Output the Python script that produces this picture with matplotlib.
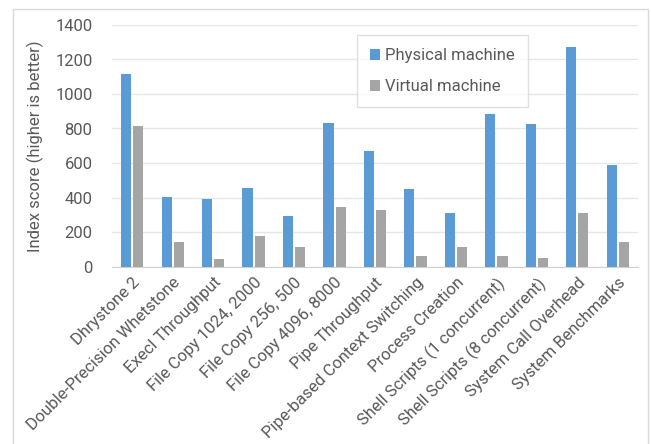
import numpy as np
import matplotlib.pyplot as plt
from matplotlib.patches import Rectangle

benchmarks = ['Dhrystone 2', 'Double-Precision Whetstone', 'Execl Throughput',
              'File Copy 1024, 2000', 'File Copy 256, 500', 'File Copy 4096, 8000',
              'Pipe Throughput', 'Pipe-based Context Switching', 'Process Creation',
              'Shell Scripts (1 concurrent)', 'Shell Scripts (8 concurrent)',
              'System Call Overhead', 'System Benchmarks']
physical = [1118, 401, 393, 453, 291, 830, 668, 449, 308, 884, 824, 1274, 587]
virtual = [813, 142, 45, 177, 115, 343, 329, 63, 113, 59, 49, 310, 144]

plt.rcParams['font.family'] = ['Roboto', 'DejaVu Sans']
text_color = '#595959'
fs = 12

fig = plt.figure(figsize=(6.51, 4.44), dpi=100)
ax = fig.add_axes([112 / 651, 1 - 266.5 / 444, 526 / 651, 241.5 / 444])

# light frame round the whole chart, open at the bottom edge
fig.patches.append(Rectangle((12.5 / 651, -0.1), 635 / 651, 1.1 - 9 / 444,
                             transform=fig.transFigure, fill=False,
                             edgecolor='#d9d9d9', linewidth=1.0))

x = np.arange(len(benchmarks))
w = 0.25
ax.bar(x - w / 2 - 0.025, physical, w, color='#5B9BD5', label='Physical machine', zorder=3)
ax.bar(x + w / 2 + 0.025, virtual, w, color='#A5A5A5', label='Virtual machine', zorder=3)

ax.set_xlim(-0.5, len(benchmarks) - 0.5)
ax.set_ylim(0, 1400)
ax.set_yticks(range(0, 1401, 200))
ax.yaxis.grid(True, color='#e6e6e6', linewidth=1.0, zorder=0)
ax.set_axisbelow(True)

for side in ['top', 'right', 'left']:
    ax.spines[side].set_visible(False)
ax.spines['bottom'].set_color('#d0d0d0')

ax.set_xticks(x)
ax.set_xticklabels(benchmarks, rotation=45, ha='right', rotation_mode='anchor',
                   fontsize=fs, color=text_color)
ax.tick_params(axis='x', length=0, pad=6)
ax.tick_params(axis='y', length=0, labelsize=fs, labelcolor=text_color, pad=14)
ax.set_ylabel('Index score (higher is better)', fontsize=fs, color=text_color, labelpad=8)

leg = ax.legend(loc='upper left', bbox_to_anchor=(245 / 526, 1 - 10 / 241.5),
                fontsize=fs, frameon=True, fancybox=False, borderpad=0.8,
                labelspacing=0.95, handlelength=0.6, handleheight=0.6,
                handletextpad=0.3, borderaxespad=0)
leg.get_frame().set_edgecolor('#d9d9d9')
leg.get_frame().set_linewidth(1.0)
for t in leg.get_texts():
    t.set_color(text_color)

fig.savefig('out.png', dpi=100)
